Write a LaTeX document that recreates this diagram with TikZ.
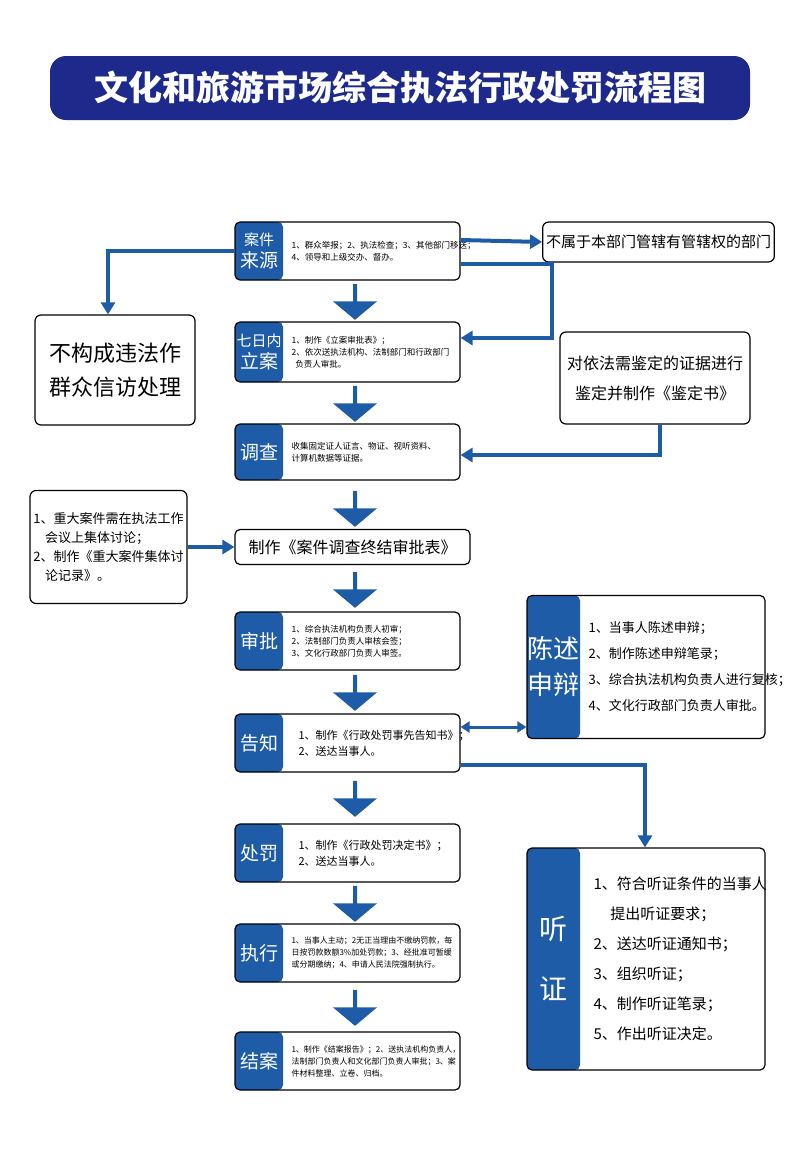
\documentclass[tikz,border=0pt]{standalone}
\usepackage{fontspec}
\setmainfont{Noto Sans CJK SC}
\usetikzlibrary{shapes.arrows,arrows.meta}
\definecolor{tabblue}{HTML}{1F5CA8}
\definecolor{titleblue}{HTML}{1D2A8C}
\tikzset{
  body/.style={draw=black, line width=1.2pt, rounded corners=5pt, fill=white, minimum width=225pt, inner sep=0pt},
  tabbed/.style={path picture={\fill[tabblue] (path picture bounding box.south west) rectangle ([xshift=#1]path picture bounding box.north west);}},
  tablabel/.style={text=white, font=\fontsize{19}{22}\selectfont, align=center},
  small/.style={anchor=west, font=\fontsize{8.5}{12}\selectfont, align=left},
  bigarrow/.style={single arrow, fill=tabblue, rotate=-90, minimum height=36pt, minimum width=44pt, single arrow head extend=2pt, single arrow tip angle=100, inner sep=0pt},
  link/.style={draw=tabblue, line width=4pt, -{Triangle[length=12pt,width=14pt]}},
  side/.style={draw=black, line width=1.2pt, rounded corners=6pt, fill=white, align=center}
}
\begin{document}
\begin{tikzpicture}[x=1pt,y=-1pt]
  \useasboundingbox (0,0) rectangle (800,1149);
  % title
  \node[fill=titleblue, rounded corners=16pt, minimum width=700pt, minimum height=64pt, text=white, font=\fontsize{34}{40}\selectfont\bfseries] (title) at (400,88) {文化和旅游市场综合执法行政处罚流程图};

  % main column
  \node[body, tabbed=48pt, minimum height=58pt] (source) at (347.5,251) {};
  \node[tablabel] at (259,251) {\fontsize{15}{20}\selectfont 案件\\来源};
  \node[small] at (288,251) {1、群众举报；2、执法检查；3、其他部门移送；\\4、领导和上级交办、督办。};

  \node[body, tabbed=48pt, minimum height=60pt] (file) at (347.5,352) {};
  \node[tablabel] at (259,352) {\fontsize{15}{20}\selectfont 七日内\\立案};
  \node[small] at (288,352) {1、制作《立案审批表》；\\2、依次送执法机构、法制部门和行政部门\\\ \ 负责人审批。};

  \node[body, tabbed=48pt, minimum height=56pt] (probe) at (347.5,452) {};
  \node[tablabel] at (259,452) {调查};
  \node[small] at (288,452) {收集固定证人证言、物证、视听资料、\\计算机数据等证据。};

  \node[body, minimum width=235pt, minimum height=35pt, font=\fontsize{16}{18}\selectfont] (form) at (352.5,547) {制作《案件调查终结审批表》};

  \node[body, tabbed=48pt, minimum height=58pt] (review) at (347.5,641) {};
  \node[tablabel] at (259,641) {审批};
  \node[small] at (288,641) {1、综合执法机构负责人初审；\\2、法制部门负责人审核会签；\\3、文化行政部门负责人审签。};

  \node[body, tabbed=48pt, minimum height=58pt] (notice) at (347.5,743) {};
  \node[tablabel] at (259,743) {告知};
  \node[small, font=\fontsize{11}{16}\selectfont] at (295,743) {1、制作《行政处罚事先告知书》；\\2、送达当事人。};

  \node[body, tabbed=48pt, minimum height=58pt] (penalty) at (347.5,853) {};
  \node[tablabel] at (259,853) {处罚};
  \node[small, font=\fontsize{11}{16}\selectfont] at (295,853) {1、制作《行政处罚决定书》；\\2、送达当事人。};

  \node[body, tabbed=48pt, minimum height=58pt] (enforce) at (347.5,953) {};
  \node[tablabel] at (259,953) {执行};
  \node[small, font=\fontsize{8}{12}\selectfont] at (288,953) {1、当事人主动；2无正当理由不缴纳罚款，每\\日按罚款数额3\%加处罚款；3、经批准可暂缓\\或分期缴纳；4、申请人民法院强制执行。};

  \node[body, tabbed=48pt, minimum height=58pt] (close) at (347.5,1061) {};
  \node[tablabel] at (259,1061) {结案};
  \node[small, font=\fontsize{8}{12}\selectfont] at (288,1061) {1、制作《结案报告》；2、送执法机构负责人，\\法制部门负责人和文化部门负责人审批；3、案\\件材料整理、立卷、归档。};

  % block arrows
  \foreach \y in {301,403,508,589,692,798,903,1007}
    \node[bigarrow] at (355,\y) {};

  % side boxes
  \node[side, minimum width=160pt, minimum height=110pt, font=\fontsize{22}{34}\selectfont] (nocase) at (115,370) {不构成违法作\\群众信访处理};
  \node[side, minimum width=183pt, minimum height=40pt, font=\fontsize{15}{18}\selectfont] (other) at (658.5,242) {不属于本部门管辖有管辖权的部门};
  \node[side, minimum width=190pt, minimum height=92pt, font=\fontsize{16}{30}\selectfont] (expert) at (655,378) {对依法需鉴定的证据进行\\鉴定并制作《鉴定书》};
  \node[side, minimum width=153pt, minimum height=113pt, font=\fontsize{13}{19}\selectfont, align=left] (meeting) at (108.5,547) {1、重大案件需在执法工作\\\ \ \ \ 会议上集体讨论；\\2、制作《重大案件集体讨\\\ \ \ \ 论记录》。};

  \node[body, tabbed=53pt, minimum width=238pt, minimum height=143pt] (plea) at (646,667) {};
  \node[tablabel, font=\fontsize{26}{36}\selectfont] at (553.5,667) {陈述\\申辩};
  \node[small, font=\fontsize{13}{26}\selectfont] at (585,667) {1、当事人陈述申辩；\\2、制作陈述申辩笔录；\\3、综合执法机构负责人进行复核；\\4、文化行政部门负责人审批。};

  \node[body, tabbed=53pt, minimum width=238pt, minimum height=222pt] (hearing) at (646,959) {};
  \node[tablabel, font=\fontsize{28}{60}\selectfont] at (553.5,959) {听\\证};
  \node[small, font=\fontsize{15}{30}\selectfont] at (590,959) {1、符合听证条件的当事人\\\ \ \ \ \ 提出听证要求；\\2、送达听证通知书；\\3、组织听证；\\4、制作听证笔录；\\5、作出听证决定。};

  % connectors
  \draw[link] (source.west) -| (nocase.north -| 108,0);
  \draw[link] (source.east |- 0,240) -- (other.west);
  \draw[link] (source.east |- 0,264) -| (552,338) -- (file.east |- 0,338);
  \draw[link] (expert.south -| 660,0) |- (probe.east |- 0,455);
  \draw[link] (meeting.east) -- (form.west);
  \draw[draw=tabblue, line width=3pt, {Triangle[length=9pt,width=11pt]}-{Triangle[length=9pt,width=11pt]}] (notice.east |- 0,727) -- (plea.west |- 0,727);
  \draw[link] (notice.east |- 0,765) -| (hearing.north -| 645,0);
\end{tikzpicture}
\end{document}
